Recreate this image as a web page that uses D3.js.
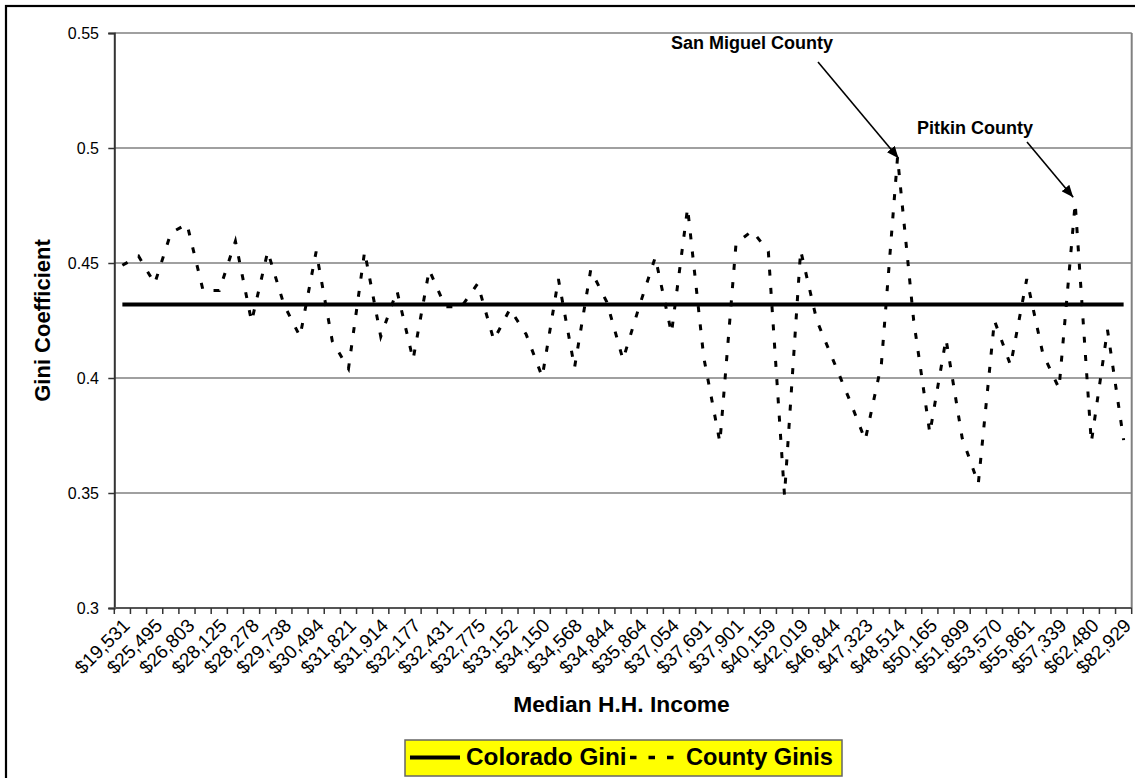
<!DOCTYPE html>
<html><head><meta charset="utf-8">
<script src="https://cdn.jsdelivr.net/npm/d3@7"></script>
<style>
body{margin:0;background:#fff;}
svg{display:block;font-family:"Liberation Sans",Arial,Helvetica,sans-serif;}
</style>
</head><body>
<svg id="chart" width="1135" height="778"></svg>
<script>
// ---------------- data ----------------
const tickLabels = ["$19,531","$25,495","$26,803","$28,125","$28,278","$29,738","$30,494","$31,821",
  "$31,914","$32,177","$32,431","$32,775","$33,152","$34,150","$34,568","$34,844","$35,864","$37,054",
  "$37,691","$37,901","$40,159","$42,019","$46,844","$47,323","$48,514","$50,165","$51,899","$53,570",
  "$55,861","$57,339","$62,480","$82,929"];
const countyGinis = [0.449,0.453,0.441,0.463,0.467,0.438,0.438,0.4595,0.4245,0.455,
  0.432,0.418,0.455,0.416,0.404,0.455,0.418,0.438,0.408,0.447,
  0.431,0.431,0.441,0.4165,0.430,0.419,0.4005,0.443,0.4045,0.447,
  0.433,0.408,0.431,0.4525,0.4195,0.474,0.409,0.372,0.4585,0.464,
  0.455,0.349,0.4555,0.425,0.408,0.391,0.373,0.406,0.496,0.425,
  0.376,0.417,0.374,0.354,0.425,0.4055,0.443,0.4105,0.3955,0.476,
  0.372,0.421,0.373];
const coloradoGini = 0.432;
const yTicks = [0.3,0.35,0.4,0.45,0.5,0.55];
const annotations = [{label:"San Miguel County", index:48},{label:"Pitkin County", index:59}];
const seriesNames = ["Colorado Gini","County Ginis"];

// ---------------- layout ----------------
const L = 114.3, R = 1131.7, T = 33, B = 608;
const svg = d3.select("#chart");
const n = countyGinis.length;
const xb = d3.scaleBand().domain(d3.range(n)).range([L, R]).paddingInner(0).paddingOuter(0);
const cx = i => xb(i) + xb.bandwidth()/2;
const y = d3.scaleLinear().domain([0.3, 0.55]).range([B, T]);

// outer border
svg.append("rect").attr("x",6).attr("y",6).attr("width",1160).attr("height",800)
  .attr("fill","none").attr("stroke","#000").attr("stroke-width",2.2);

// gridlines
svg.append("g").selectAll("line").data(yTicks.filter(d=>d>0.3)).join("line")
  .attr("x1",L).attr("x2",R).attr("y1",d=>y(d)).attr("y2",d=>y(d))
  .attr("stroke","#808080").attr("stroke-width",1.5);
// plot right border
svg.append("line").attr("x1",R).attr("x2",R).attr("y1",T).attr("y2",B)
  .attr("stroke","#808080").attr("stroke-width",2);

// y axis
const yAxis = d3.axisLeft(y).tickValues(yTicks).tickSize(6).tickFormat("");
const yg = svg.append("g").attr("transform",`translate(${L},0)`).call(yAxis);
yg.select(".domain").attr("stroke","#333").attr("stroke-width",2);
yg.selectAll(".tick line").attr("stroke","#333").attr("stroke-width",1.5);
svg.append("g").selectAll("text").data(yTicks).join("text")
  .attr("x",99).attr("y",d=>y(d)).attr("dy","0.36em")
  .attr("text-anchor","end").attr("font-size",16).attr("fill","#000")
  .text(d=>String(d));

// x axis (category boundaries)
svg.append("line").attr("x1",L).attr("x2",R).attr("y1",B).attr("y2",B)
  .attr("stroke","#555").attr("stroke-width",2);
svg.append("g").selectAll("line").data(d3.range(n+1)).join("line")
  .attr("x1",i=> i<n ? xb(i) : R).attr("x2",i=> i<n ? xb(i) : R)
  .attr("y1",B).attr("y2",B+6).attr("stroke","#333").attr("stroke-width",1.5);
svg.append("g").selectAll("text").data(tickLabels).join("text")
  .attr("transform",(d,k)=>`translate(${cx(2*k)+4},${B+14}) rotate(-45)`)
  .attr("text-anchor","end").attr("dy","0.35em")
  .attr("font-size",19).attr("fill","#000").text(d=>d);

// axis titles
svg.append("text").attr("x",621.5).attr("y",712).attr("text-anchor","middle")
  .attr("font-size",22.8).attr("font-weight","bold").text("Median H.H. Income");
svg.append("text").attr("transform",`translate(50,${(T+B)/2}) rotate(-90)`)
  .attr("text-anchor","middle").attr("font-size",22).attr("font-weight","bold")
  .text("Gini Coefficient");

// Colorado line
svg.append("line").attr("x1",cx(0)).attr("x2",cx(n-1))
  .attr("y1",y(coloradoGini)).attr("y2",y(coloradoGini))
  .attr("stroke","#000").attr("stroke-width",4);

// county line
const line = d3.line().x((d,i)=>cx(i)).y(d=>y(d));
svg.append("path").datum(countyGinis).attr("d",line)
  .attr("fill","none").attr("stroke","#000").attr("stroke-width",3)
  .attr("stroke-dasharray","6,12.3");

// annotations
const defs = svg.append("defs");
defs.append("marker").attr("id","arrow").attr("viewBox","0 0 12 10")
  .attr("refX",12).attr("refY",5).attr("markerWidth",12).attr("markerHeight",10)
  .attr("markerUnits","userSpaceOnUse").attr("orient","auto")
  .append("path").attr("d","M0,0L12,5L0,10Z").attr("fill","#000");
const annLayout = [{tx:671, ty:48.5, sx:818, sy:62, ox:1, oy:1},
                   {tx:917, ty:133.5, sx:1027, sy:142, ox:-2, oy:-6}];
annotations.forEach((a,k)=>{
  const p = annLayout[k];
  svg.append("text").attr("x",p.tx).attr("y",p.ty).attr("font-size",18)
    .attr("font-weight","bold").text(a.label);
  svg.append("line").attr("x1",p.sx).attr("y1",p.sy)
    .attr("x2",cx(a.index)+p.ox).attr("y2",y(countyGinis[a.index])+p.oy)
    .attr("stroke","#000").attr("stroke-width",1.6).attr("marker-end","url(#arrow)");
});

// legend
const lg = svg.append("g");
lg.append("rect").attr("x",405).attr("y",740).attr("width",437).attr("height",36)
  .attr("fill","#FFFF00").attr("stroke","#666").attr("stroke-width",1.5);
lg.append("line").attr("x1",410).attr("x2",460).attr("y1",757.5).attr("y2",757.5)
  .attr("stroke","#000").attr("stroke-width",4);
lg.append("text").attr("x",466).attr("y",765).attr("font-size",24.3).attr("font-weight","bold")
  .text(seriesNames[0]);
lg.append("line").attr("x1",630).attr("x2",675).attr("y1",757.5).attr("y2",757.5)
  .attr("stroke","#000").attr("stroke-width",3.5).attr("stroke-dasharray","6.5,12");
lg.append("text").attr("x",686).attr("y",765).attr("font-size",23.6).attr("font-weight","bold")
  .text(seriesNames[1]);
</script>
</body></html>
